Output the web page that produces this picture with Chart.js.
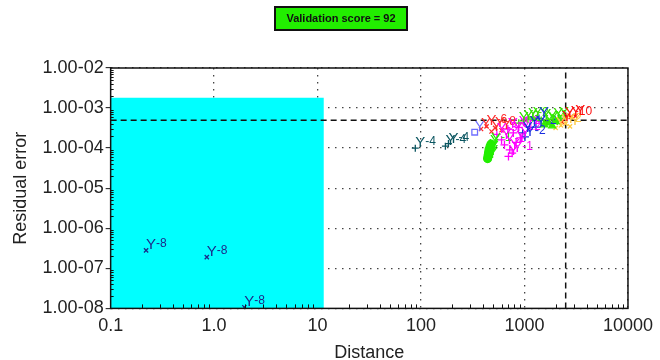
<!DOCTYPE html>
<html>
<head>
<meta charset="utf-8">
<script src="https://cdn.jsdelivr.net/npm/chart.js@4/dist/chart.umd.min.js"></script>
<style>
  html, body { margin: 0; padding: 0; background: #fff; }
  #wrap { width: 660px; height: 360px; }
</style>
</head>
<body>
<div id="wrap"><canvas id="canvas"></canvas></div>
<script>
'use strict'
/* global Chart */

const titleText = 'Validation score = 92'
const xTitle = 'Distance'
const yTitle = 'Residual error'
const xTicks = [0.1, 1, 10, 100, 1000, 10000]
const xTickLabels = ['0.1', '1.0', '10', '100', '1000', '10000']
const yTicks = [1e-8, 1e-7, 1e-6, 1e-5, 1e-4, 1e-3, 1e-2]
const yTickLabels = ['1.00-08', '1.00-07', '1.00-06', '1.00-05', '1.00-04', '1.00-03', '1.00-02']

// shaded zone and limit lines
const zoneDist = [0.1, 11.5]
const zoneErr = 1.8e-3
const limitErr = 5e-4
const limitDist = 2500

// point series: distance, residual error, tag drawn after the "Y"
const navyDist = [0.22, 0.85, 1.96]
const navyErr = [2.8e-7, 1.9e-7, 1.07e-8]
const navyTags = ['-8', '-8', '-8']

const tealDist = [88, 172, 184]
const tealErr = [1.0e-4, 1.12e-4, 1.3e-4]
const tealTags = ['-4', '-4', '-4']

const violetDist = [330]
const violetErr = [2.5e-4]
const violetTags = ['']

const redDist = [380, 430, 480, 520, 600]
const redErr = [3.0e-4, 3.5e-4, 2.6e-4, 3.2e-4, 2.8e-4]
const redTags = ['', '-6', '', '-8', '']

const limeDist = [440, 445, 450, 455, 465, 475]
const limeErr = [5.5e-5, 6.5e-5, 7.8e-5, 9.2e-5, 1.1e-4, 1.25e-4]
const limeTags = ['', '', '', '', '', '-1']

const magentaDist = [540, 600, 640, 690, 700, 720, 760, 780, 830, 880, 910]
const magentaErr = [2.2e-4, 1.6e-4, 1.2e-4, 3.0e-4, 6.2e-5, 9e-5, 7.5e-5, 2.4e-4, 1.4e-4, 3.3e-4, 1.8e-4]
const magentaTags = ['-3', '', '-1', '-8', '', '', '-1', '-12', '', '-1', '']

const greenDist = [880, 980, 1080, 1200, 1450, 1650, 1900, 2150]
const greenErr = [4.2e-4, 4.8e-4, 5.3e-4, 5.7e-4, 4.9e-4, 4.6e-4, 5.2e-4, 5.6e-4]
const greenTags = ['-3', '', '-2', '', '', '-1', '', '']

const blueDist = [960, 1010, 1120, 1290, 1380]
const blueErr = [2.4e-4, 1.9e-4, 3.3e-4, 3.35e-4, 5.5e-4]
const blueTags = ['', '-2', '', '-2', '']

const triDist = [1550, 1700, 1850, 2000]
const triErr = [3.8e-4, 4.3e-4, 3.6e-4, 4.6e-4]
const triTags = ['', '', '', '']

const amberDist = [2000, 2250, 2500, 2750]
const amberErr = [3.2e-4, 3.7e-4, 4.1e-4, 3.5e-4]
const amberTags = ['', '-2', '', '']

const scarletDist = [2300, 2450, 2800, 3100]
const scarletErr = [4.5e-4, 5.8e-4, 6.0e-4, 6.3e-4]
const scarletTags = ['', '-10', '', '']

const zip = (xs, ys) => xs.map((x, i) => ({ x, y: ys[i] }))

const series = (xs, ys, tags, color, style, radius, filled) => ({
  data: zip(xs, ys),
  tags,
  borderColor: color,
  backgroundColor: filled ? color : 'rgba(0,0,0,0)',
  pointStyle: style,
  pointRadius: radius,
  pointBorderWidth: 1.3,
  order: 0
})

const tagLabels = {
  id: 'tagLabels',
  afterDatasetsDraw (chart) {
    const { ctx, chartArea } = chart
    ctx.save()
    ctx.beginPath()
    ctx.rect(chartArea.left, chartArea.top, chartArea.right - chartArea.left, chartArea.bottom - chartArea.top)
    ctx.clip()
    chart.data.datasets.forEach((ds, i) => {
      if (!ds.tags) return
      const meta = chart.getDatasetMeta(i)
      meta.data.forEach((pt, j) => {
        ctx.fillStyle = ds.borderColor
        ctx.textBaseline = 'alphabetic'
        ctx.textAlign = 'left'
        ctx.font = '15px "Liberation Sans"'
        ctx.fillText('Y', pt.x, pt.y - 1)
        const w = ctx.measureText('Y').width
        if (ds.tags[j]) {
          ctx.font = '12px "Liberation Sans"'
          ctx.fillText(ds.tags[j], pt.x + w, pt.y - 3)
        }
      })
    })
    ctx.restore()
  },
  afterDraw (chart) {
    const { ctx, chartArea } = chart
    const xs = chart.scales.x
    const ys = chart.scales.y
    ctx.save()
    ctx.strokeStyle = '#111'
    ctx.lineWidth = 1.5
    ctx.strokeRect(chartArea.left, chartArea.top, chartArea.right - chartArea.left, chartArea.bottom - chartArea.top)
    ctx.lineWidth = 1
    ctx.beginPath()
    for (let d = 0.1; d < 10000; d *= 10) {
      for (let k = 2; k < 10; k++) {
        const px = Math.round(xs.getPixelForValue(d * k)) + 0.5
        ctx.moveTo(px, chartArea.bottom)
        ctx.lineTo(px, chartArea.bottom - 4)
      }
    }
    for (let d = 1e-8; d < 1e-2; d *= 10) {
      for (let k = 2; k < 10; k++) {
        const py = Math.round(ys.getPixelForValue(d * k)) + 0.5
        ctx.moveTo(chartArea.left, py)
        ctx.lineTo(chartArea.left + 3, py)
      }
    }
    ctx.stroke()
    ctx.restore()
  },
  beforeDraw (chart) {
    const { ctx } = chart
    ctx.save()
    ctx.fillStyle = '#22ee00'
    ctx.fillRect(275, 7, 132, 23)
    ctx.strokeStyle = '#111'
    ctx.lineWidth = 2
    ctx.strokeRect(275, 7, 132, 23)
    ctx.fillStyle = '#111'
    ctx.font = 'bold 11px "Liberation Sans"'
    ctx.textAlign = 'center'
    ctx.textBaseline = 'middle'
    ctx.fillText(titleText, 341, 19)
    ctx.restore()
  }
}

const tickFont = { family: 'Liberation Sans', size: 18 }
const titleFont = { family: 'Liberation Sans', size: 18 }

new Chart(document.getElementById('canvas').getContext('2d'), {
  type: 'scatter',
  data: {
    datasets: [
      {
        data: [{ x: zoneDist[0], y: zoneErr }, { x: zoneDist[1], y: zoneErr }],
        showLine: true,
        fill: 'start',
        backgroundColor: '#00ffff',
        borderWidth: 0,
        borderColor: 'rgba(0,0,0,0)',
        pointRadius: 0,
        order: 100
      },
      {
        data: [{ x: xTicks[0], y: limitErr }, { x: xTicks[xTicks.length - 1], y: limitErr }],
        showLine: true,
        borderColor: '#111',
        borderWidth: 1.5,
        borderDash: [6, 4],
        pointRadius: 0,
        order: 50
      },
      {
        data: [{ x: limitDist, y: yTicks[0] }, { x: limitDist, y: yTicks[yTicks.length - 1] }],
        showLine: true,
        borderColor: '#111',
        borderWidth: 1.5,
        borderDash: [6, 4],
        pointRadius: 0,
        order: 50
      },
      series(navyDist, navyErr, navyTags, '#1c2a8a', 'crossRot', 3, false),
      series(tealDist, tealErr, tealTags, '#0a5560', 'cross', 3.5, false),
      series(violetDist, violetErr, violetTags, '#6f6fff', 'rect', 4, false),
      series(redDist, redErr, redTags, '#ff2a2a', 'crossRot', 3, false),
      series(limeDist, limeErr, limeTags, '#22ee00', 'circle', 4, true),
      series(magentaDist, magentaErr, magentaTags, '#ff00ff', 'cross', 4, false),
      series(greenDist, greenErr, greenTags, '#33dd00', 'cross', 4, false),
      series(blueDist, blueErr, blueTags, '#1a2ee0', 'cross', 4, false),
      series(triDist, triErr, triTags, '#33ee00', 'triangle', 4, true),
      series(amberDist, amberErr, amberTags, '#ffcc44', 'crossRot', 3, false),
      series(scarletDist, scarletErr, scarletTags, '#ff1010', 'crossRot', 3, false)
    ]
  },
  options: {
    responsive: true,
    maintainAspectRatio: false,
    animation: false,
    layout: { padding: { top: 68, right: 31, left: 2, bottom: -2 } },
    plugins: {
      legend: { display: false },
      tooltip: { enabled: false }
    },
    scales: {
      x: {
        type: 'logarithmic',
        min: xTicks[0],
        max: xTicks[xTicks.length - 1],
        afterBuildTicks: scale => { scale.ticks = xTicks.map(v => ({ value: v })) },
        ticks: {
          autoSkip: false,
          maxRotation: 0,
          padding: 7,
          color: '#222',
          font: tickFont,
          callback: (v, i) => xTickLabels[i]
        },
        grid: { color: '#444', lineWidth: 1.3, tickLength: 0, drawTicks: false },
        border: { display: false, dash: [1.5, 5.5] },
        title: { display: true, text: xTitle, color: '#222', font: { ...titleFont, lineHeight: 1 }, padding: { top: 0, bottom: 0 } }
      },
      y: {
        type: 'logarithmic',
        min: yTicks[0],
        max: yTicks[yTicks.length - 1],
        afterBuildTicks: scale => { scale.ticks = yTicks.map(v => ({ value: v })) },
        ticks: {
          autoSkip: false,
          padding: 2,
          color: '#222',
          font: tickFont,
          callback: (v, i) => yTickLabels[i]
        },
        grid: { color: '#444', lineWidth: 1.3, tickLength: 5, tickColor: '#111', tickWidth: 1 },
        border: { display: false, dash: [1.5, 5.5] },
        title: { display: true, text: yTitle, color: '#222', font: titleFont, padding: { top: 8, bottom: 9 } }
      }
    }
  },
  plugins: [tagLabels]
})
</script>
</body>
</html>
